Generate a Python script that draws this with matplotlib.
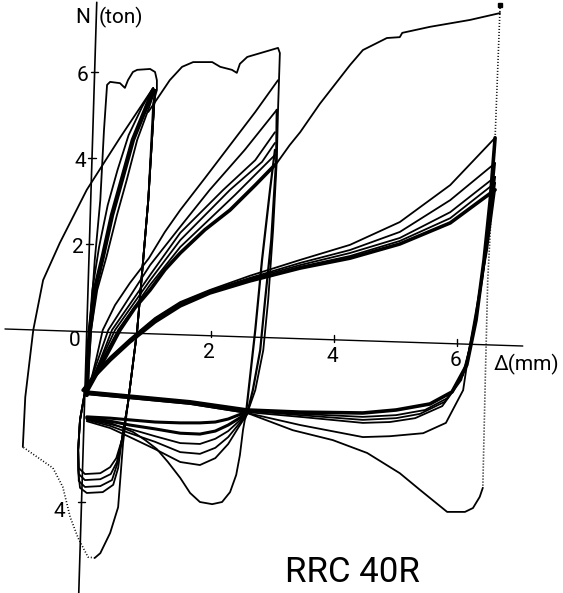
#!/usr/bin/env python3
"""N-Δ hysteresis record of specimen RRC 40R (three displacement amplitudes)."""

import matplotlib
matplotlib.use("Agg")
import matplotlib.pyplot as plt

plt.rcParams["font.family"] = ["Roboto", "DejaVu Sans"]

INK = "black"
THIN = 1.3
BAND = 2.6

# ── 1st amplitude (about 1 mm) ────────────────────────────────────────
# virgin loading with the plateau, then the first unloading to the tension peak
L1_FIRST_D = [0.03, 0.11, 0.20, 0.26, 0.31, 0.36, 0.52, 0.60, 0.65, 0.73, 0.80, 1.01,
              1.09, 1.12, 1.12, 1.06, 0.98, 0.80, 0.65, 0.57, 0.49, 0.36, 0.20, 0.11]
L1_FIRST_N = [0.00, 1.63, 3.02, 4.65, 5.70, 5.77, 5.74, 5.63, 5.81, 6.00, 6.05, 6.07,
              6.00, 5.81, 5.58, 5.28, 3.02, 0.00, -1.70, -2.63, -4.12, -4.72, -5.19, -5.30]
# pen lifted (dotted) on the way back
L1_DOT_D = [0.11, 0.00, -0.16, -0.29, -0.41, -0.57, -1.06]
L1_DOT_N = [-5.30, -5.28, -4.84, -4.35, -3.65, -3.21, -2.72]
# return branch up to the first peak
L1_BACK_D = [-1.06, -1.02, -0.89, -0.73, -0.46, -0.02, 0.52, 1.06]
L1_BACK_N = [-2.72, -1.56, 0.00, 1.16, 2.02, 3.26, 4.47, 5.63]

# repeated cycles: reloading band
L1_RELOAD_D = [-0.02, 0.00, 0.03, 0.11, 0.24, 0.39, 0.55, 0.73, 0.93, 1.06]
L1_RELOAD_N = [-1.51, -0.70, 0.00, 0.93, 1.70, 2.67, 3.49, 4.42, 5.12, 5.58]
L1_RELOAD_LEFT_D = [-0.02, 0.02, 0.07, 0.18, 0.32, 0.48, 0.66, 0.88, 1.06]
L1_RELOAD_LEFT_N = [-1.51, 0.00, 0.93, 1.93, 2.90, 3.72, 4.53, 5.19, 5.63]
L1_RELOAD_RIGHT_D = [-0.02, 0.05, 0.15, 0.30, 0.47, 0.63, 0.80, 0.98, 1.09]
L1_RELOAD_RIGHT_N = [-1.51, 0.00, 0.93, 1.70, 2.67, 3.49, 4.42, 5.12, 5.58]

# repeated cycles: unloading (shared part) and the four bottom turns
L1_UNLOAD_D = [1.09, 0.98, 0.80, 0.65, 0.55]
L1_UNLOAD_N = [5.58, 3.02, 0.00, -1.70, -2.56]
L1_BOTTOM1_D = [0.46, 0.36, 0.20, -0.05, -0.15, -0.16, -0.13, -0.05]
L1_BOTTOM1_N = [-2.98, -3.19, -3.33, -3.35, -3.21, -2.79, -2.09, -1.44]
L1_BOTTOM2_D = [0.47, 0.37, 0.20, -0.05, -0.15, -0.16, -0.13, -0.05]
L1_BOTTOM2_N = [-3.07, -3.35, -3.47, -3.49, -3.35, -2.79, -2.09, -1.44]
L1_BOTTOM3_D = [0.47, 0.39, 0.20, -0.05, -0.15, -0.16, -0.13, -0.05]
L1_BOTTOM3_N = [-3.14, -3.49, -3.63, -3.65, -3.51, -2.79, -2.09, -1.44]
L1_BOTTOM4_D = [0.49, 0.41, 0.24, -0.02, -0.13, -0.16, -0.16, -0.13, -0.05]
L1_BOTTOM4_N = [-3.21, -3.60, -3.77, -3.79, -3.67, -3.26, -2.79, -2.09, -1.44]

# ── 2nd amplitude (about 3 mm) ────────────────────────────────────────
# first excursion: loading, plateau, unloading and the deep tension loop
L2_FIRST_D = [0.98, 1.17, 1.33, 1.53, 1.71, 2.02, 2.15, 2.34, 2.42, 2.47, 2.59, 3.09, 3.12,
              3.09, 3.07, 3.01, 2.93, 2.85, 2.72, 2.59, 2.55, 2.52, 2.47, 2.41, 2.31,
              2.18, 2.02, 1.82, 1.66, 1.50, 1.30, 1.12, 0.93, 0.73, 0.36, -0.02]
L2_FIRST_N = [5.07, 5.47, 5.81, 6.12, 6.23, 6.23, 6.12, 6.05, 5.98, 6.19, 6.35, 6.56, 6.44,
              5.12, 3.95, 2.33, 0.70, -0.47, -1.40, -1.93, -2.09, -2.33, -2.91, -3.37, -3.77,
              -4.00, -4.05, -4.00, -3.79, -3.44, -3.07, -2.77, -2.56, -2.37, -2.16, -2.05]

# reloading curves, peak N falling from cycle to cycle
R2_D = [
    [-0.02, 0.07, 0.13, 0.24, 0.44, 0.68, 0.99, 1.25, 1.50, 1.90, 2.31, 2.72, 3.09],
    [-0.02, 0.16, 0.33, 1.01, 1.50, 1.98, 2.55, 3.07],
    [-0.02, 0.20, 0.39, 1.01, 1.50, 2.20, 2.72, 3.04],
    [-0.02, 0.21, 0.44, 1.01, 1.50, 2.31, 2.83, 3.04],
    [-0.02, 0.23, 0.49, 1.01, 1.50, 2.39, 3.04],
    [-0.02, 0.13, 0.26, 0.39, 0.52, 0.76, 1.01, 1.25, 1.50, 1.90, 2.31, 2.72, 3.04],
]
R2_N = [
    [-1.44, -1.05, -0.70, 0.00, 0.58, 1.09, 1.67, 2.28, 2.79, 3.53, 4.30, 5.07, 5.81],
    [-1.44, -0.70, 0.00, 1.51, 2.40, 3.26, 4.19, 5.12],
    [-1.44, -0.70, 0.00, 1.28, 2.26, 3.26, 3.95, 4.60],
    [-1.44, -0.70, 0.00, 1.16, 2.09, 3.26, 3.91, 4.35],
    [-1.44, -0.70, 0.00, 1.05, 1.93, 3.14, 4.07],
    [-1.44, -1.05, -0.70, -0.35, 0.00, 0.51, 0.93, 1.40, 1.79, 2.33, 2.79, 3.37, 3.84],
]
U2_D = [
    [3.07, 3.06, 2.98, 2.88, 2.80, 2.68, 2.59],
    [3.04, 2.96, 2.83, 2.72, 2.63, 2.57],
]
U2_N = [
    [5.12, 3.95, 2.09, 0.70, -0.47, -1.40, -1.93],
    [4.19, 3.26, 1.63, 0.00, -1.16, -1.93],
]
# tension side of the repeated 3 mm cycles
F2_D = [-0.02, 0.36, 0.68, 1.09, 1.50, 1.82, 2.07, 2.28, 2.44, 2.59]
F2_N = [
    [-2.02, -2.05, -2.09, -2.14, -2.16, -2.16, -2.14, -2.07, -1.98, -1.91],
    [-2.05, -2.12, -2.21, -2.30, -2.40, -2.42, -2.35, -2.21, -2.07, -1.93],
    [-2.07, -2.19, -2.30, -2.47, -2.63, -2.65, -2.53, -2.35, -2.14, -1.95],
    [-2.09, -2.23, -2.40, -2.60, -2.84, -2.88, -2.74, -2.49, -2.21, -1.95],
    [-2.12, -2.28, -2.49, -2.77, -3.07, -3.14, -2.98, -2.65, -2.28, -1.95],
]

# ── 3rd amplitude (about 6.5 mm) ──────────────────────────────────────
L3_FIRST_D = [3.07, 3.28, 3.45, 3.77, 4.26, 4.47, 4.86, 5.07, 5.11, 5.56, 6.21, 6.70]
L3_FIRST_N = [3.88, 4.30, 4.60, 5.26, 6.16, 6.51, 6.79, 6.81, 6.91, 7.05, 7.21, 7.37]
L3_DOT_D = [6.70, 6.62, 6.50, 6.46, 6.42]
L3_DOT_N = [7.49, 4.47, 1.16, -1.16, -3.67]
L3_RETURN_D = [6.42, 6.37, 6.26, 6.13, 5.84, 5.40, 5.07, 4.54, 3.98, 3.33, 2.59, 1.66, -0.02]
L3_RETURN_N = [-3.67, -3.88, -4.14, -4.23, -4.23, -3.72, -3.33, -2.86, -2.56, -2.33, -1.93,
               -1.72, -1.49]

R3_D = [-0.08, 0.11, 0.36, 0.68, 1.09, 1.50, 1.98, 2.63, 3.45, 4.26, 5.07, 5.89, 6.62]
R3_N = [
    [-1.40, -1.02, -0.63, -0.21, 0.28, 0.65, 0.93, 1.26, 1.63, 1.98, 2.51, 3.37, 4.47],
    [-1.40, -1.05, -0.65, -0.23, 0.26, 0.63, 0.91, 1.21, 1.56, 1.86, 2.28, 3.02, 3.88],
    [-1.40, -1.05, -0.67, -0.26, 0.23, 0.60, 0.88, 1.19, 1.51, 1.79, 2.14, 2.74, 3.56],
    [-1.40, -1.07, -0.67, -0.26, 0.21, 0.58, 0.88, 1.16, 1.47, 1.72, 2.07, 2.60, 3.42],
    [-1.40, -1.07, -0.70, -0.28, 0.19, 0.56, 0.86, 1.14, 1.44, 1.67, 2.00, 2.49, 3.26],
]
U3_D = [
    [6.62, 6.54, 6.44, 6.31, 6.16, 5.92, 5.56, 5.01, 4.47, 3.45, 2.59, 1.66, -0.05],
    [6.62, 6.54, 6.42, 6.29, 6.13, 5.85, 5.48, 5.01, 4.47, 3.45, 2.59, 1.66, -0.05],
    [6.62, 6.52, 6.41, 6.26, 6.10, 5.80, 5.40, 5.01, 4.47, 3.45, 2.59, 1.66, -0.05],
    [6.62, 6.50, 6.39, 6.24, 6.07, 5.76, 5.32, 4.91, 4.47, 3.45, 2.59, 1.66, -0.05],
    [6.62, 6.49, 6.37, 6.21, 6.10, 5.82, 5.45, 4.91, 4.47, 3.45, 2.59, 1.66, -0.05],
]
U3_N = [
    [4.47, 3.02, 1.63, 0.23, -0.81, -1.44, -1.72, -1.86, -1.93, -1.91, -1.86, -1.67, -1.44],
    [3.88, 2.67, 1.40, 0.12, -0.93, -1.58, -1.86, -1.98, -2.02, -1.95, -1.88, -1.70, -1.47],
    [3.56, 2.33, 1.16, -0.12, -1.05, -1.67, -1.95, -2.05, -2.09, -1.98, -1.88, -1.70, -1.47],
    [3.42, 2.09, 1.05, -0.23, -1.16, -1.77, -2.05, -2.14, -2.16, -2.02, -1.91, -1.70, -1.47],
    [3.26, 1.86, 0.93, -0.35, -1.40, -2.16, -2.40, -2.47, -2.49, -2.21, -1.93, -1.72, -1.49],
]

# ── axes (the record sheet sits slightly rotated) ─────────────────────
X_TICKS = [2, 4, 6]
Y_TICKS = [6, 4, 2, -4]
TILT_X = -0.047   # ton per mm: the Δ axis runs slightly downhill
TILT_Y = 0.0213   # mm per ton: the N axis leans to the right


def x_axis_n(d):
    return -0.04 + TILT_X * d


def y_axis_d(n):
    return -0.02 + TILT_Y * n


fig = plt.figure(figsize=(5.63, 5.93), dpi=100)
ax = fig.add_axes([0, 0, 1, 1])
ax.set_xlim(-1.431, 7.724)
ax.set_ylim(-6.116, 7.674)
ax.axis("off")

kw = dict(color=INK, solid_joinstyle="round", solid_capstyle="round")

# axes lines and ticks
ax.plot([-1.35, 7.07], [x_axis_n(-1.35), x_axis_n(7.07)], lw=1.0, **kw)
ax.plot([y_axis_d(7.62), y_axis_d(-6.12)], [7.62, -6.12], lw=1.2, **kw)
for t in X_TICKS:
    ax.plot([t, t], [x_axis_n(t) - 0.04, x_axis_n(t) + 0.12], lw=1.0, **kw)
    ax.text(t - 0.03, x_axis_n(t) - 0.38, str(t), fontsize=15, ha="center", va="center")
for t in Y_TICKS:
    ax.plot([y_axis_d(t) - 0.06, y_axis_d(t) + 0.06], [t, t], lw=1.0, **kw)
    if t > 0:
        ax.text(y_axis_d(t) - 0.19, t - 0.08, str(t), fontsize=15, ha="center", va="center")
    else:
        ax.text(y_axis_d(t) - 0.36, t - 0.22, str(abs(t)), fontsize=15,
                ha="center", va="center")
ax.text(-0.21, -0.25, "0", fontsize=15, ha="center", va="center")
ax.text(0.04, 7.27, "N", fontsize=15, ha="right", va="center")
ax.text(0.18, 7.27, "(ton)", fontsize=15, ha="left", va="center")
ax.text(6.60, -0.80, "Δ(mm)", fontsize=15, ha="left", va="center")
ax.text(3.20, -5.64, "RRC 40R", fontsize=25, ha="left", va="center")

# 1st amplitude
ax.plot(L1_FIRST_D, L1_FIRST_N, lw=THIN, **kw)
ax.plot(L1_DOT_D, L1_DOT_N, lw=1.2, ls=(0, (0.6, 1.2)), color=INK)
ax.plot(L1_BACK_D, L1_BACK_N, lw=THIN, **kw)
ax.plot(L1_RELOAD_D, L1_RELOAD_N, lw=3.2, **kw)
ax.plot(L1_RELOAD_LEFT_D, L1_RELOAD_LEFT_N, lw=THIN, **kw)
ax.plot(L1_RELOAD_RIGHT_D, L1_RELOAD_RIGHT_N, lw=THIN, **kw)
for bd, bn in [(L1_BOTTOM1_D, L1_BOTTOM1_N), (L1_BOTTOM2_D, L1_BOTTOM2_N),
               (L1_BOTTOM3_D, L1_BOTTOM3_N), (L1_BOTTOM4_D, L1_BOTTOM4_N)]:
    ax.plot(L1_UNLOAD_D + bd, L1_UNLOAD_N + bn, lw=THIN, **kw)

# 2nd amplitude
ax.plot(L2_FIRST_D, L2_FIRST_N, lw=THIN, **kw)
for i, (d, n) in enumerate(zip(R2_D, R2_N)):
    ax.plot(d, n, lw=BAND if i == len(R2_D) - 1 else THIN, **kw)
for d, n in zip(U2_D, U2_N):
    ax.plot(d, n, lw=1.6, **kw)
for i, n in enumerate(F2_N):
    ax.plot(F2_D, n, lw=2.2 if i < 2 else THIN, **kw)

# 3rd amplitude
ax.plot(L3_FIRST_D, L3_FIRST_N, lw=THIN, **kw)
ax.plot(L3_DOT_D, L3_DOT_N, lw=1.2, ls=(0, (0.6, 1.2)), color=INK)
ax.plot([L3_DOT_D[0]], [L3_DOT_N[0] + 0.07], marker="s", ms=3, color=INK)
ax.plot(L3_RETURN_D, L3_RETURN_N, lw=THIN, **kw)
for i, n in enumerate(R3_N):
    ax.plot(R3_D, n, lw=BAND if i == len(R3_N) - 1 else THIN, **kw)
for i, (d, n) in enumerate(zip(U3_D, U3_N)):
    ax.plot(d, n, lw=BAND if i == 0 else THIN, **kw)

fig.savefig("out.png", dpi=100, facecolor="white")
